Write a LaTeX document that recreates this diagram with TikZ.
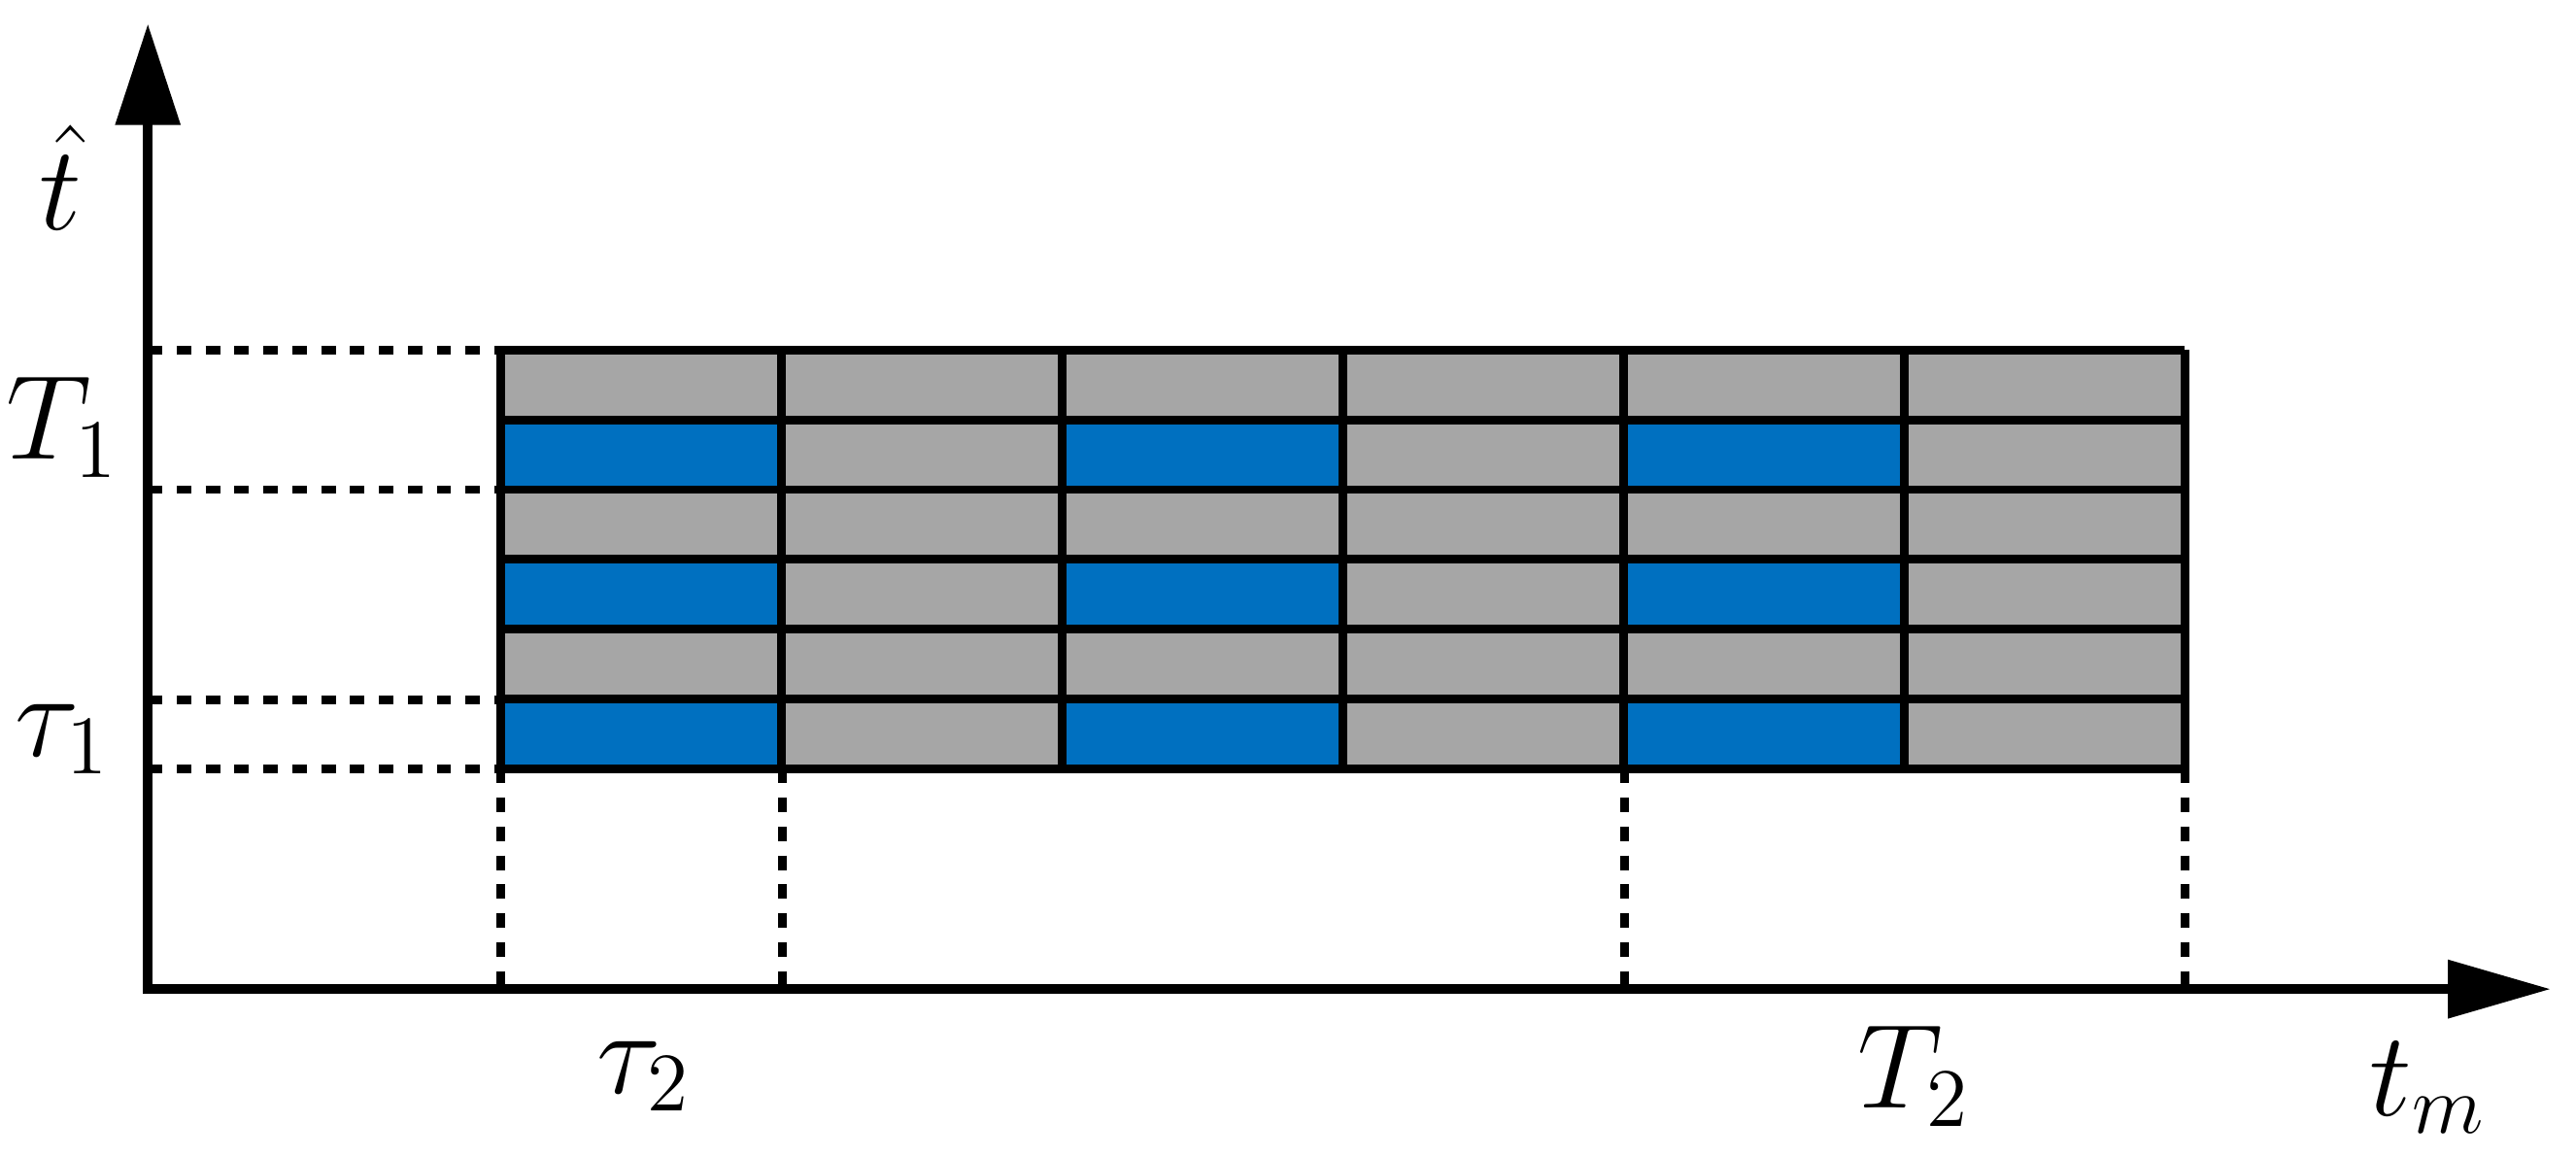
\documentclass[tikz,border=0pt]{standalone}
\begin{document}
\begin{tikzpicture}[x=0.01cm,y=-0.01cm,line width=1.5pt,
  dotline/.style={line width=1.5pt,dash pattern=on 2.5pt off 2.5pt},
  lab/.style={font=\fontsize{20}{24}\selectfont}]
\useasboundingbox (0,0) rectangle (1568,704);
\definecolor{cgray}{HTML}{A6A6A6}\definecolor{cblue}{HTML}{0070C0}
% cells
\foreach \c in {0,...,5}{\foreach \r in {0,...,5}{
  \pgfmathsetmacro{\xa}{305+\c*170.83}\pgfmathsetmacro{\ya}{213+\r*42.5}
  \pgfmathparse{(mod(\c,2)==0 && mod(\r,2)==1)?1:0}
  \ifnum\pgfmathresult=1 \def\fc{cblue}\else\def\fc{cgray}\fi
  \fill[\fc] (\xa,\ya) rectangle ++(170.83,42.5);}}
\foreach \c in {0,...,6}{\draw (305+\c*170.83,213) -- (305+\c*170.83,468);}
\foreach \r in {0,...,6}{\draw (305,213+\r*42.5) -- (1330,213+\r*42.5);}
% dotted
\foreach \y in {213,298,426,468}{\draw[dotline] (90,\y) -- (305,\y);}
\foreach \x in {305,476,989,1330}{\draw[dotline] (\x,468) -- (\x,602);}
% axes
\coordinate (o) at (90,602);
\coordinate (ytip) at (90,15);
\coordinate (xtip) at (1552,602);
\draw[line width=1.7pt] (90,75) -- (o) -- (1490,602);
\fill (ytip) -- (70,76) -- (110,76) -- cycle;
\fill (xtip) -- (1490,584) -- (1490,620) -- cycle;
% labels
\node[lab] (ht) at (37,108) {$\hat t$};
\node[lab] (T1) at (38,260) {$T_1$};
\node[lab] (t1) at (38,450) {$\tau_1$};
\node[lab] (t2) at (392,655) {$\tau_2$};
\node[lab] (T2) at (1165,655) {$T_2$};
\node[lab] (tm) at (1478,662) {$t_m$};
\end{tikzpicture}
\end{document}
